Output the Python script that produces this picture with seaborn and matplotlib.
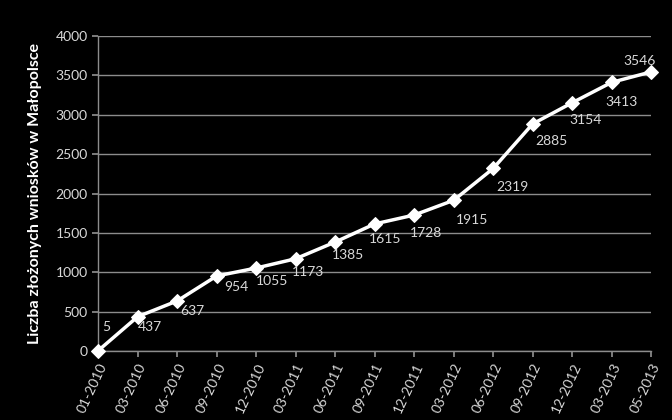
import numpy as np
import pandas as pd
import matplotlib
matplotlib.use('Agg')
import matplotlib.pyplot as plt
import seaborn as sns

months = ['01-2010', '03-2010', '06-2010', '09-2010', '12-2010', '03-2011', '06-2011',
          '09-2011', '12-2011', '03-2012', '06-2012', '09-2012', '12-2012', '03-2013', '05-2013']
wnioski = [5, 437, 637, 954, 1055, 1173, 1385, 1615, 1728, 1915, 2319, 2885, 3154, 3413, 3546]
# label offsets in pixels (dx, dy) relative to the point
label_offsets = [(8, 24), (12, -10), (15, -10), (20, -11), (16, -13), (12, -13), (13, -13),
                 (10, -15), (12, -18), (18, -20), (19, -19), (19, -17), (13, -17), (10, -20), (-12, 11)]

df = pd.DataFrame({'pos': np.arange(len(months)), 'value': wnioski})

sns.set_theme(style="dark")
plt.rcParams['font.family'] = ['Lato', 'DejaVu Sans']

fig, ax = plt.subplots(figsize=(6.72, 4.2), dpi=100)
fig.patch.set_facecolor('black')
ax.set_facecolor('black')

sns.lineplot(data=df, x='pos', y='value', color='white', linewidth=2.5, marker='D',
             markersize=7, markeredgecolor='white', ax=ax, zorder=3, clip_on=False)

for i, v in enumerate(wnioski):
    dx, dy = label_offsets[i]
    ax.annotate(str(v), (i, v), xytext=(dx, dy), textcoords='offset pixels',
                ha='center', va='center', color='#d9d9d9', fontsize=10)

ax.set_xlim(0, len(months) - 1)
ax.set_ylim(0, 4000)
ax.set_yticks(np.arange(0, 4001, 500))
ax.set_xticks(df['pos'])
ax.set_xticklabels(months, rotation=65, ha='right', rotation_mode='anchor')
ax.yaxis.grid(True, color='#8c8c8c', linewidth=1)
ax.xaxis.grid(False)

for side in ['top', 'right']:
    ax.spines[side].set_visible(False)
for side in ['left', 'bottom']:
    ax.spines[side].set_visible(True)
    ax.spines[side].set_color('#8c8c8c')
    ax.spines[side].set_linewidth(1)

ax.tick_params(axis='both', colors='#8c8c8c', labelcolor='#d9d9d9', labelsize=10,
               length=4, direction='out', left=True, bottom=True)
ax.set_xlabel('')
ax.set_ylabel('Liczba złożonych wniosków w Małopolsce', color='white', fontsize=11.5,
              fontweight='bold', labelpad=10)

fig.subplots_adjust(left=0.146, right=0.969, top=0.914, bottom=0.164)
plt.savefig('out.png', dpi=100, facecolor='black')
plt.close()
